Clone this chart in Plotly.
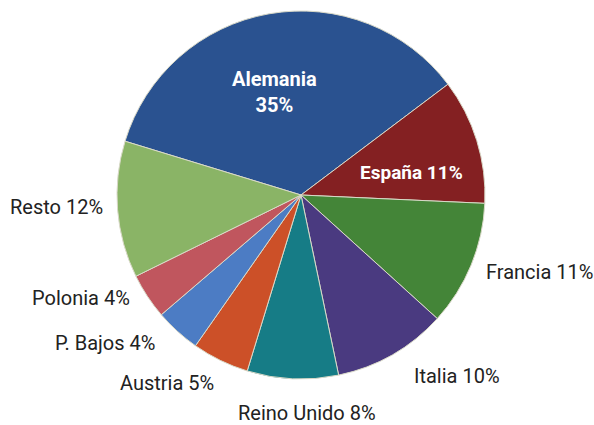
import plotly.graph_objects as go

paises = ["Alemania", "España", "Francia", "Italia", "Reino Unido",
          "Austria", "P. Bajos", "Polonia", "Resto"]
valores = [35, 11, 11, 10, 8, 5, 4, 4, 12]
colores = ["#2a5290", "#842022", "#448538", "#4a3a80", "#167c86",
           "#cc5028", "#4c7cc4", "#c0565e", "#8ab466"]

W, H = 594, 425
cx, cy, r = 301, 195, 184

FONT = "Roboto, Liberation Sans, sans-serif"

fig = go.Figure(go.Pie(
    labels=paises,
    values=valores,
    sort=False,
    direction="clockwise",
    rotation=287,
    marker=dict(colors=colores, line=dict(color="#d9d9c8", width=1)),
    textinfo="none",
    showlegend=False,
    hoverinfo="label+percent",
    domain=dict(x=[(cx - r) / W, (cx + r) / W],
                y=[(H - cy - r) / H, (H - cy + r) / H]),
))

# labels inside slices (bold, white)
internos = {
    "Alemania": ((274, 92), "<b>{p}<br>{v}%</b>", 20),
    "España": ((412, 173), "<b>{p} {v}%</b>", 19),
}
# outside labels (text centre positions in pixels)
externos = {
    "Resto": (57, 207),
    "Polonia": (81, 298),
    "P. Bajos": (105, 343),
    "Austria": (167, 383),
    "Reino Unido": (307, 413),
    "Italia": (457, 376),
    "Francia": (539, 272),
}
for p, v in zip(paises, valores):
    if p in internos:
        (x, y), tpl, fs = internos[p]
        fig.add_annotation(x=x / W, y=1 - y / H, xref="paper", yref="paper",
                           text=tpl.format(p=p, v=v), showarrow=False,
                           font=dict(family=FONT, size=fs, color="white"),
                           xanchor="center", yanchor="middle")
    elif p in externos:
        x, y = externos[p]
        fig.add_annotation(x=x / W, y=1 - y / H, xref="paper", yref="paper",
                           text=f"{p} {v}%", showarrow=False,
                           font=dict(family=FONT, size=20, color="#222222"),
                           xanchor="center", yanchor="middle")

fig.update_layout(width=W, height=H, margin=dict(l=0, r=0, t=0, b=0),
                  paper_bgcolor="white", plot_bgcolor="white")
fig.write_html("out.html")
